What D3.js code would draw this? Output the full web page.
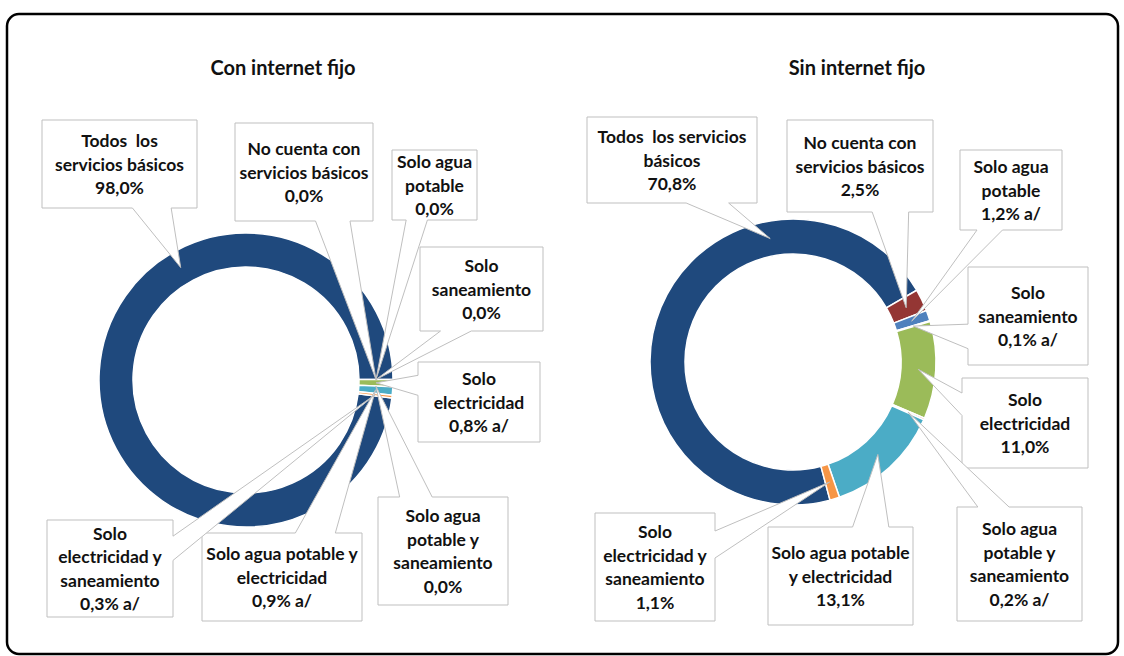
<!DOCTYPE html>
<html>
<head>
<meta charset="utf-8">
<script src="https://cdn.jsdelivr.net/npm/d3@7"></script>
<style>
  body { margin: 0; background: #fff; }
</style>
</head>
<body>
<div id="chart"></div>
<script>
// categories, in the order the slices are drawn (clockwise)
const categories = [
  "Todos los servicios básicos",
  "No cuenta con servicios básicos",
  "Solo agua potable",
  "Solo saneamiento",
  "Solo electricidad",
  "Solo agua potable y saneamiento",
  "Solo agua potable y electricidad",
  "Solo electricidad y saneamiento"
];
const conInternet = [98.0, 0.0, 0.0, 0.0, 0.8, 0.0, 0.9, 0.3];
const sinInternet = [70.8, 2.5, 1.2, 0.1, 11.0, 0.2, 13.1, 1.1];
const notasCon = ["", "", "", "", " a/", "", " a/", " a/"];
const notasSin = ["", "", " a/", " a/", "", " a/", "", ""];

// how each label is broken in its box
const labelsCon = [
  ["Todos  los", "servicios básicos"],
  ["No cuenta con", "servicios básicos"],
  ["Solo agua", "potable"],
  ["Solo", "saneamiento"],
  ["Solo", "electricidad"],
  ["Solo agua", "potable y", "saneamiento"],
  ["Solo agua potable y", "electricidad"],
  ["Solo", "electricidad y", "saneamiento"]
];
const labelsSin = [
  ["Todos  los servicios", "básicos"],
  ["No cuenta con", "servicios básicos"],
  ["Solo agua", "potable"],
  ["Solo", "saneamiento"],
  ["Solo", "electricidad"],
  ["Solo agua", "potable y", "saneamiento"],
  ["Solo agua potable", "y electricidad"],
  ["Solo", "electricidad y", "saneamiento"]
];

const colors = ["#1f497d", "#943634", "#4f81bd", "#8064a2", "#9bbb59", "#c0504d", "#4bacc6", "#f79646"];

// callout boxes [x, y, w, h]
const boxesCon = [
  [42, 120, 155, 88], [235, 123, 138, 98], [392, 150, 85, 70], [420, 247, 123, 84],
  [418, 362, 122, 80], [378, 497, 130, 108], [202, 533, 160, 88], [47, 520, 126, 97]
];
const boxesSin = [
  [587, 117, 170, 86], [787, 120, 146, 92], [960, 150, 102, 80], [968, 267, 120, 98],
  [962, 378, 126, 90], [957, 507, 125, 114], [768, 527, 145, 98], [595, 513, 120, 108]
];

const width = 1124;
const height = 656;
const font = "Lato, 'Open Sans', sans-serif";

const svg = d3.select("#chart")
  .append("svg")
  .attr("width", width)
  .attr("height", height);

// outer frame
svg.append("rect")
  .attr("x", 7)
  .attr("y", 14)
  .attr("width", 1111)
  .attr("height", 640)
  .attr("rx", 12)
  .attr("fill", "#fff")
  .attr("stroke", "#000")
  .attr("stroke-width", 2.5);

const locale = d3.formatLocale({ decimal: ",", thousands: ".", grouping: [3], currency: ["", ""] });
const fmt = locale.format(".1f");

// Excel style wedge rectangle callout
function calloutPath(b, tx, ty) {
  const [l, t, w, h] = b;
  const r = l + w, btm = t + h;
  const dx = tx - (l + w / 2), dy = ty - (t + h / 2);
  const dq = dx * h / w;
  const dz = Math.abs(dy) - Math.abs(dq);
  const x1 = l + w * (dx > 0 ? 7 : 2) / 12, x2 = l + w * (dx > 0 ? 10 : 5) / 12;
  const y1 = t + h * (dy > 0 ? 7 : 2) / 12, y2 = t + h * (dy > 0 ? 10 : 5) / 12;
  const p = d3.path();
  p.moveTo(l, t);
  if (dz > 0 && dy < 0) { p.lineTo(x1, t); p.lineTo(tx, ty); p.lineTo(x2, t); }
  p.lineTo(r, t);
  if (dz <= 0 && dx > 0) { p.lineTo(r, y1); p.lineTo(tx, ty); p.lineTo(r, y2); }
  p.lineTo(r, btm);
  if (dz > 0 && dy > 0) { p.lineTo(x2, btm); p.lineTo(tx, ty); p.lineTo(x1, btm); }
  p.lineTo(l, btm);
  if (dz <= 0 && dx < 0) { p.lineTo(l, y2); p.lineTo(tx, ty); p.lineTo(l, y1); }
  p.closePath();
  return p.toString();
}

function drawDonut(cfg) {
  const g = svg.append("g");

  // title
  g.append("text")
    .attr("x", cfg.titleX)
    .attr("y", 75)
    .attr("text-anchor", "middle")
    .style("font-family", font)
    .style("font-weight", 700)
    .style("font-size", "20px")
    .style("fill", "#111")
    .text(cfg.title);

  const start = cfg.startDeg * Math.PI / 180;
  const pie = d3.pie()
    .sort(null)
    .value(d => d)
    .startAngle(start)
    .endAngle(start + 2 * Math.PI);
  const arcs = pie(cfg.values);

  const arc = d3.arc()
    .innerRadius(cfg.rInner)
    .outerRadius(cfg.rOuter);

  const ring = g.append("g")
    .attr("transform", `translate(${cfg.cx},${cfg.cy})`);

  ring.selectAll("path")
    .data(arcs)
    .join("path")
    .attr("d", arc)
    .attr("fill", (d, i) => colors[i])
    .attr("stroke", "#fff")
    .attr("stroke-width", d => d.value > 0 ? 1.5 : 0);

  // callouts
  const rMid = (cfg.rInner + cfg.rOuter) / 2;
  arcs.forEach((d, i) => {
    const frac = i === 0 ? cfg.tipFrac : 0.5;
    const a = d.startAngle + frac * (d.endAngle - d.startAngle);
    const tx = cfg.cx + rMid * Math.sin(a);
    const ty = cfg.cy - rMid * Math.cos(a);
    const b = cfg.boxes[i];

    g.append("path")
      .attr("d", calloutPath(b, tx, ty))
      .attr("fill", "#fff")
      .attr("stroke", "#bfbfbf")
      .attr("stroke-width", 1);

    const lines = cfg.labels[i].concat([fmt(d.value) + "%" + cfg.notes[i]]);
    const lh = 23.5;
    const vc = b[1] + b[3] / 2;
    g.selectAll(null)
      .data(lines)
      .join("text")
      .attr("x", b[0] + b[2] / 2)
      .attr("y", (s, k) => vc + (k - (lines.length - 1) / 2) * lh)
      .attr("text-anchor", "middle")
      .attr("dominant-baseline", "central")
      .attr("xml:space", "preserve")
      .style("white-space", "pre")
      .style("font-family", font)
      .style("font-weight", 700)
      .style("font-size", "17.5px")
      .style("fill", "#111")
      .text(s => s);
  });
}

drawDonut({
  title: "Con internet fijo", titleX: 283,
  cx: 246, cy: 380, rOuter: 147, rInner: 113, startDeg: 97, tipFrac: 0.66,
  values: conInternet, labels: labelsCon, notes: notasCon, boxes: boxesCon
});

drawDonut({
  title: "Sin internet fijo", titleX: 857,
  cx: 793, cy: 362, rOuter: 143, rInner: 108, startDeg: 165, tipFrac: 0.724,
  values: sinInternet, labels: labelsSin, notes: notasSin, boxes: boxesSin
});
</script>
</body>
</html>
